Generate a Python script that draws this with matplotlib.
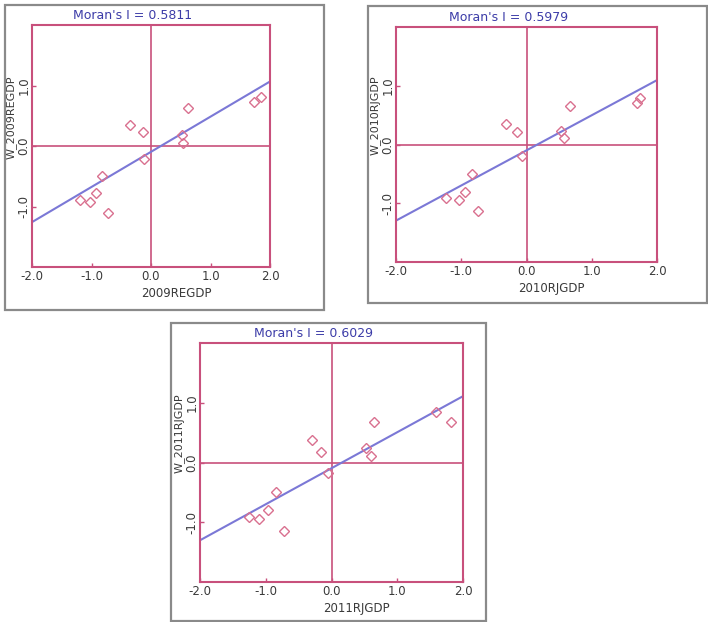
import matplotlib
matplotlib.use("Agg")
import numpy as np
import matplotlib.pyplot as plt
from matplotlib.patches import Rectangle

plt.rcParams['axes.unicode_minus'] = False

# values
x_2009 = [-1.20, -1.03, -0.93, -0.83, -0.73, -0.35, -0.14, -0.11, 0.52, 0.54, 0.62, 1.73, 1.85]
y_2009 = [-0.90, -0.92, -0.78, -0.50, -1.10, 0.34, 0.23, -0.21, 0.19, 0.05, 0.62, 0.72, 0.81]

x_2010 = [-1.23, -1.04, -0.95, -0.84, -0.75, -0.32, -0.15, -0.07, 0.53, 0.58, 0.66, 1.70, 1.74]
y_2010 = [-0.91, -0.94, -0.80, -0.50, -1.13, 0.35, 0.21, -0.19, 0.23, 0.11, 0.65, 0.71, 0.79]

x_2011 = [-1.25, -1.10, -0.96, -0.85, -0.72, -0.30, -0.16, -0.06, 0.53, 0.60, 0.65, 1.59, 1.81]
y_2011 = [-0.91, -0.94, -0.80, -0.49, -1.15, 0.38, 0.17, -0.18, 0.25, 0.11, 0.67, 0.84, 0.67]

moran_i = [0.5811, 0.5979, 0.6029]
intercepts = [-0.096, -0.10, -0.096]
x_labels = ['2009REGDP', '2010RJGDP', '2011RJGDP']
y_labels = ['W_2009REGDP', 'W_2010RJGDP', 'W_2011RJGDP']
x_ticks = [-2.0, -1.0, 0.0, 1.0, 2.0]
y_ticks = [-1.0, 0.0, 1.0]

W, H = 708, 622
PINK = '#c8507c'
DOT = '#d9708f'
BLUE = '#7b78d6'
TITLE = '#3c3ca8'
TXT = '#3a3a3a'

# axes boxes in pixels: left, top, right, bottom
boxes = [(32, 25, 270, 267), (396, 27, 657, 262), (200, 343, 463, 582)]
# outer gray frames in pixels: left, top, right, bottom
frames = [(5, 5, 324, 310), (368, 6, 707, 303), (171, 323, 486, 621)]

fig = plt.figure(figsize=(W / 100, H / 100), dpi=100)
fig.patch.set_facecolor('white')

for l, t, r, b in frames:
    fig.patches.append(Rectangle((l / W, 1 - b / H), (r - l) / W, (b - t) / H,
                                 transform=fig.transFigure, fill=False,
                                 edgecolor='#8a8a8a', linewidth=1.6))

data = [(x_2009, y_2009), (x_2010, y_2010), (x_2011, y_2011)]

for i, (xs, ys) in enumerate(data):
    l, t, r, b = boxes[i]
    ax = fig.add_axes([l / W, 1 - b / H, (r - l) / W, (b - t) / H])
    ax.set_xlim(-2, 2)
    ax.set_ylim(-2, 2)
    for s in ax.spines.values():
        s.set_color(PINK)
        s.set_linewidth(1.5)
    ax.axhline(0, color=PINK, lw=1.2)
    ax.axvline(0, color=PINK, lw=1.2)

    lx = np.array(ax.get_xlim())
    ax.plot(lx, moran_i[i] * lx + intercepts[i], color=BLUE, lw=1.5)
    ax.plot(xs, ys, linestyle='none', marker='D', markersize=5.2,
            markerfacecolor='none', markeredgecolor=DOT, markeredgewidth=1.0)

    ax.set_xticks(x_ticks)
    ax.set_xticklabels(['%.1f' % v for v in x_ticks])
    ax.set_yticks(y_ticks)
    ax.set_yticklabels(['%.1f' % v for v in y_ticks], rotation=90, va='center')
    ax.tick_params(direction='in', length=3, color=PINK, width=1,
                   labelsize=8.5, labelcolor=TXT, pad=2)
    ax.tick_params(axis='y', pad=1)

    pw = r - l
    ph = b - t
    ax.text(0.5 - 18 / pw, 1 + 3 / ph, "Moran's I = %.4f" % moran_i[i],
            transform=ax.transAxes, ha='center', va='bottom',
            fontsize=9, color=TITLE)
    ax.text(0.5 + 25 / pw, -20 / ph, x_labels[i], transform=ax.transAxes,
            ha='center', va='top', fontsize=8.5, color=TXT)
    ax.text(-21 / pw, 0.5 + 29 / ph, y_labels[i], transform=ax.transAxes,
            ha='center', va='center', rotation=90, fontsize=8, color=TXT)

fig.savefig('out.png', dpi=100)
